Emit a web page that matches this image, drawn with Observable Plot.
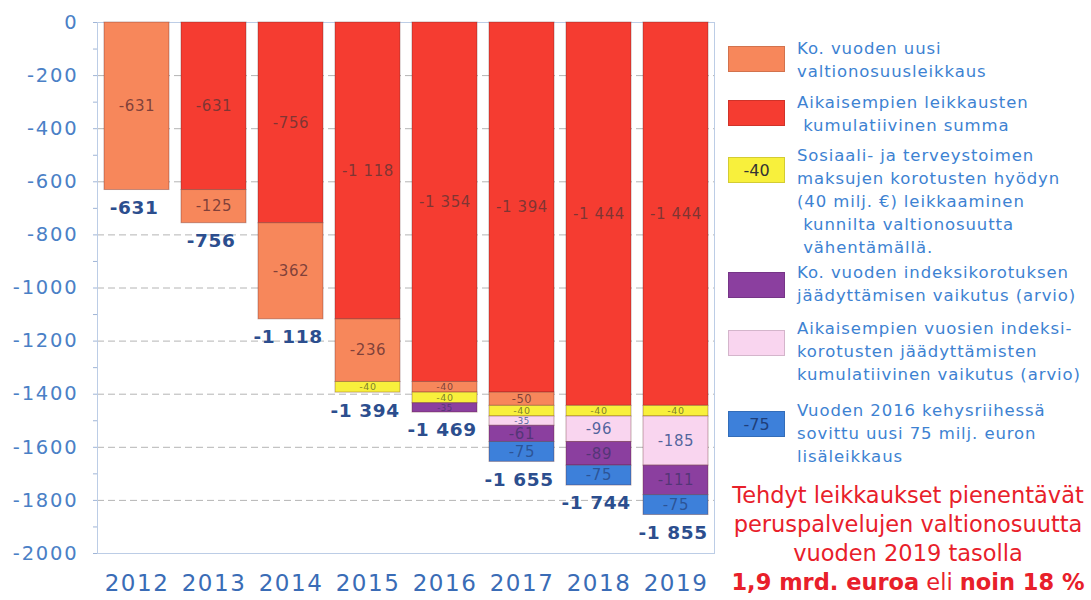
<!DOCTYPE html>
<html>
<head>
<meta charset="utf-8">
<script src="https://cdn.jsdelivr.net/npm/d3@7"></script>
<script src="https://cdn.jsdelivr.net/npm/@observablehq/plot@0.6"></script>
<style>
  body { margin: 0; background: #fff; font-family: "DejaVu Sans", Verdana, sans-serif; }
  #wrap { position: relative; width: 1091px; height: 600px; overflow: hidden; }
  #chart { position: absolute; left: 0; top: 0; }
  .sw { position: absolute; left: 728px; width: 57px; height: 26px; box-sizing: border-box;
        font-size: 16px; color: #333; text-align: center; line-height: 26px; }
  .lt { position: absolute; left: 797px; font-size: 16.5px; line-height: 23px; color: #3d82d2;
        letter-spacing: 0.9px; white-space: pre; }
  .red { position: absolute; left: 720px; width: 376px; text-align: center; color: #e8202a;
         font-size: 22.5px; line-height: 29px; white-space: pre; }
  svg text { letter-spacing: 0.6px; }
</style>
</head>
<body>
<div id="wrap">
  <div id="chart"></div>
</div>
<script>
// ---- data ----
const years = ["2012", "2013", "2014", "2015", "2016", "2017", "2018", "2019"];
const seriesNames = ["Aikaisempien", "Ko. vuoden uusi", "Sote -40", "Aik. indeksi", "Ko. indeksi", "Kehysriihi -75"];
const prevCuts   = [0, -631, -756, -1118, -1354, -1394, -1444, -1444];   // red
const newCuts    = [-631, -125, -362, -236, -40, -50, 0, 0];              // orange
const soteCuts   = [0, 0, 0, -40, -40, -40, -40, -40];                    // yellow
const prevIndex  = [0, 0, 0, 0, 0, -35, -96, -185];                       // pink
const yearIndex  = [0, 0, 0, 0, -35, -61, -89, -111];                     // purple
const frameCuts  = [0, 0, 0, 0, 0, -75, -75, -75];                        // blue
const totals     = [-631, -756, -1118, -1394, -1469, -1655, -1744, -1855];
const yTicks     = [0, -200, -400, -600, -800, -1000, -1200, -1400, -1600, -1800, -2000];
const minorTicks = d3.range(-2000, 1, 100);
const seriesColors = ["#f53c31", "#f7875b", "#f8f03c", "#f9d5ef", "#8b3f9f", "#3d80da"];
const labelColors  = ["#6a3434", "#6a3434", "#6a6a2a", "#34508e", "#4a3470", "#2a4c8a"];

const legendLabels = [
  ["Ko. vuoden uusi", "valtionosuusleikkaus"],
  ["Aikaisempien leikkausten", " kumulatiivinen summa"],
  ["Sosiaali- ja terveystoimen", "maksujen korotusten hyödyn", "(40 milj. €) leikkaaminen", " kunnilta valtionosuutta", " vähentämällä."],
  ["Ko. vuoden indeksikorotuksen", "jäädyttämisen vaikutus (arvio)"],
  ["Aikaisempien vuosien indeksi-", "korotusten jäädyttämisten", "kumulatiivinen vaikutus (arvio)"],
  ["Vuoden 2016 kehysriihessä", "sovittu uusi 75 milj. euron", "lisäleikkaus"]
];
const legendSeries = [1, 0, 2, 4, 3, 5];
const legendSwatchText = ["", "", "-40", "", "", "-75"];
const noteLines = ["Tehdyt leikkaukset pienentävät", "peruspalvelujen valtionosuutta", "vuoden 2019 tasolla"];

// ---- build segments ----
const seriesValues = [prevCuts, newCuts, soteCuts, prevIndex, yearIndex, frameCuts];
const segments = [];
years.forEach((yr, i) => {
  let base = 0;
  seriesValues.forEach((vals, s) => {
    const v = vals[i];
    if (v !== 0) {
      segments.push({year: yr, series: seriesNames[s], s, value: v, y1: base, y2: base + v});
      base += v;
    }
  });
});
const fmt = v => (v < 0 ? "-" : "") + String(Math.abs(v)).replace(/\B(?=(\d{3})+(?!\d))/g, " ");
const labelSize = d => {
  const a = Math.abs(d.value);
  return a < 38 ? 8.5 : a < 45 ? 9.5 : a < 55 ? 11.5 : 15;
};

const chart = Plot.plot({
  width: 720,
  height: 600,
  marginLeft: 97,
  marginRight: 6,
  marginTop: 22,
  marginBottom: 47,
  style: {fontFamily: "DejaVu Sans, sans-serif", background: "transparent"},
  x: {domain: years, paddingInner: 0.16, paddingOuter: 0.08, label: null},
  y: {domain: [-2000, 0], label: null},
  color: {domain: seriesNames, range: seriesColors},
  marks: [
    Plot.ruleY(yTicks.filter(d => d !== 0), {stroke: "#b4b4b4", strokeDasharray: "7,4"}),
    Plot.frame({stroke: "#bccde6"}),
    Plot.axisY({ticks: minorTicks, tickSize: 4, tickFormat: () => "", stroke: "#9fb4d6"}),
    Plot.axisY({ticks: yTicks, tickSize: 0, tickPadding: 19, tickFormat: d => String(d),
                fontSize: 19.5, fill: "#4a80c6"}),
    Plot.axisX({tickSize: 0, tickPadding: 21, fontSize: 23, fill: "#3a6cb6"}),
    Plot.barY(segments, {x: "year", y1: "y1", y2: "y2", fill: "series",
                         stroke: "rgba(90,30,30,0.35)", strokeWidth: 1}),
    Plot.text(segments, {x: "year", y: d => (d.y1 + d.y2) / 2, text: d => fmt(d.value),
                         fill: d => labelColors[d.s], fontSize: labelSize, fillOpacity: 0.85}),
    Plot.text(totals, {x: (d, i) => years[i], y: d => d, dy: 18, dx: -3, text: d => fmt(d),
                       fill: "#2c4e8e", fontSize: 18.5, fontWeight: "bold"})
  ]
});
document.getElementById("chart").appendChild(chart);
d3.select(chart).selectAll("[aria-label='y-axis tick label'] text").style("letter-spacing", "1.8px");
d3.select(chart).selectAll("[aria-label='x-axis tick label'] text").style("letter-spacing", "1.5px");

// ---- legend (HTML) ----
const wrap = document.getElementById("wrap");
const swatchTops = [46, 100, 157, 272, 330, 411];
const textTops = [37, 91, 144, 261, 317, 399];
legendLabels.forEach((lines, k) => {
  const sw = document.createElement("div");
  sw.className = "sw";
  sw.style.top = swatchTops[k] + "px";
  sw.style.background = seriesColors[legendSeries[k]];
  sw.style.border = "1px solid rgba(0,0,0,0.15)";
  sw.textContent = legendSwatchText[k];
  if (legendSeries[k] === 5) sw.style.color = "#1f3f7a";
  wrap.appendChild(sw);
  const t = document.createElement("div");
  t.className = "lt";
  t.style.top = textTops[k] + "px";
  t.textContent = lines.join("\n");
  wrap.appendChild(t);
});
const note = document.createElement("div");
note.className = "red";
note.style.top = "481px";
note.innerHTML = noteLines.join("\n") + "\n<b>1,9 mrd. euroa</b> eli <b>noin 18 %</b>";
wrap.appendChild(note);
</script>
</body>
</html>
